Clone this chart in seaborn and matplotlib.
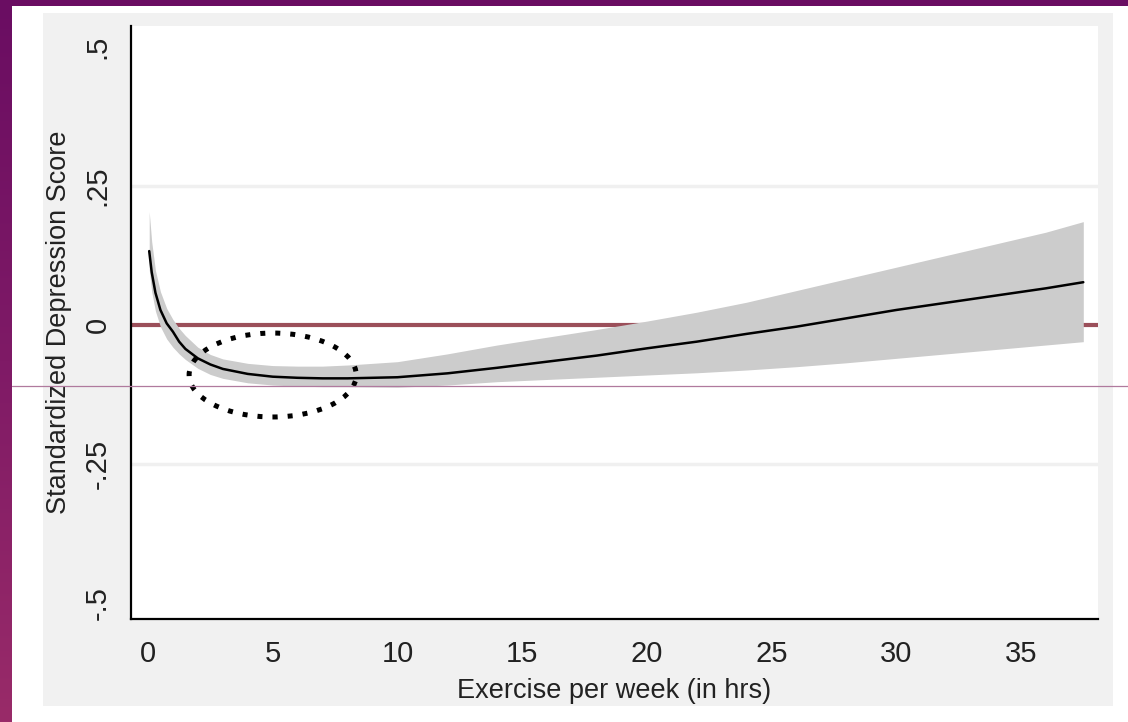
import numpy as np
import matplotlib
matplotlib.use("Agg")
import matplotlib.pyplot as plt
import seaborn as sns
from matplotlib.patches import Ellipse, Rectangle
from matplotlib.lines import Line2D
from matplotlib.colors import LinearSegmentedColormap

# values
hours = [0.05, 0.15, 0.3, 0.5, 0.75, 1.0, 1.25, 1.5, 2.0, 2.5, 3.0, 4.0, 5.0, 6.0, 7.0,
         8.0, 10.0, 12.0, 14.0, 16.0, 18.0, 20.0, 22.0, 24.0, 26.0, 28.0, 30.0, 32.0,
         34.0, 36.0, 37.5]
fit = [0.133, 0.095, 0.058, 0.027, 0.003, -0.012, -0.030, -0.043, -0.060, -0.071,
       -0.079, -0.088, -0.093, -0.095, -0.096, -0.096, -0.094, -0.087, -0.077, -0.066,
       -0.055, -0.042, -0.030, -0.016, -0.003, 0.012, 0.027, 0.040, 0.053, 0.066, 0.077]
upper = [0.204, 0.150, 0.098, 0.060, 0.030, 0.010, -0.006, -0.019, -0.040, -0.053,
         -0.061, -0.069, -0.073, -0.074, -0.074, -0.072, -0.066, -0.052, -0.036, -0.022,
         -0.008, 0.007, 0.023, 0.041, 0.062, 0.083, 0.104, 0.125, 0.146, 0.167, 0.186]
lower = [0.100, 0.060, 0.025, -0.003, -0.025, -0.040, -0.052, -0.062, -0.078, -0.089,
         -0.096, -0.104, -0.108, -0.110, -0.111, -0.111, -0.112, -0.108, -0.102, -0.098,
         -0.094, -0.090, -0.086, -0.081, -0.075, -0.068, -0.060, -0.052, -0.044, -0.036,
         -0.030]

xticks = [0, 5, 10, 15, 20, 25, 30, 35]
yticks = [-0.5, -0.25, 0, 0.25, 0.5]
ytick_labels = ["-.5", "-.25", "0", ".25", ".5"]

# highlighted region (dotted ellipse)
ell_center = (5.0, -0.090)
ell_width = 6.7
ell_height = 0.151

sns.set_style("white")
plt.rcParams["font.family"] = ["Liberation Sans", "DejaVu Sans"]

W, H = 1128, 722
fig = plt.figure(figsize=(W / 100, H / 100), dpi=100)

# slide background: purple gradient frame, white page, grey graph region
bg = fig.add_axes([0, 0, 1, 1], zorder=-10)
bg.axis("off")
cmap = LinearSegmentedColormap.from_list("frame", ["#6a0d62", "#7f1a66", "#992b69"])
bg.imshow(np.linspace(0, 1, 256).reshape(-1, 1), cmap=cmap, aspect="auto",
          extent=[0, 1, 0, 1], origin="upper")
bg.add_patch(Rectangle((12 / W, 0), 1, 1 - 6 / H, color="white", lw=0))
bg.add_patch(Rectangle((43 / W, 1 - 706 / H), (1113 - 43) / W, (706 - 13) / H,
                       color="#f1f1f1", lw=0))
bg.set_xlim(0, 1)
bg.set_ylim(0, 1)

ax = fig.add_axes([131 / W, 1 - 619 / H, (1098 - 131) / W, (619 - 26) / H])
ax.set_facecolor("white")

for yv in [-0.25, 0.25]:
    ax.axhline(yv, color="#f0f0f0", lw=2.5, zorder=0)
ax.axhline(0, color="#9b4f5a", lw=3, zorder=1)

ax.fill_between(hours, lower, upper, color="#cccccc", lw=0, zorder=2)
sns.lineplot(x=hours, y=fit, color="black", lw=1.8, ax=ax, zorder=3)

ax.add_patch(Ellipse(ell_center, ell_width, ell_height, fill=False, ec="black",
                     lw=3.6, ls=(0, (1, 2.0)), zorder=4))

ax.set_xlim(-0.68, 38.09)
ax.set_ylim(-0.529, 0.538)
ax.set_xticks(xticks)
ax.set_yticks(yticks)
ax.set_yticklabels(ytick_labels, rotation=90, va="center")

for s in ["top", "right"]:
    ax.spines[s].set_visible(False)
for s in ["left", "bottom"]:
    ax.spines[s].set_color("black")
    ax.spines[s].set_linewidth(1.6)

ax.tick_params(axis="both", direction="out", length=8, width=1.4, color="black")
ax.tick_params(axis="x", labelsize=21, pad=7, labelcolor="#222222")
ax.tick_params(axis="y", labelsize=21, pad=6, labelcolor="#222222")

ax.set_xlabel("Exercise per week (in hrs)", fontsize=19.5, color="#222222", labelpad=7)
ax.set_ylabel("Standardized Depression Score", fontsize=19.5, color="#222222", labelpad=8)

# thin guide line across the slide
fig.add_artist(Line2D([12 / W, 1], [1 - 386 / H] * 2, color="#b07a9e", lw=0.9))

fig.savefig("out.png", dpi=100)
